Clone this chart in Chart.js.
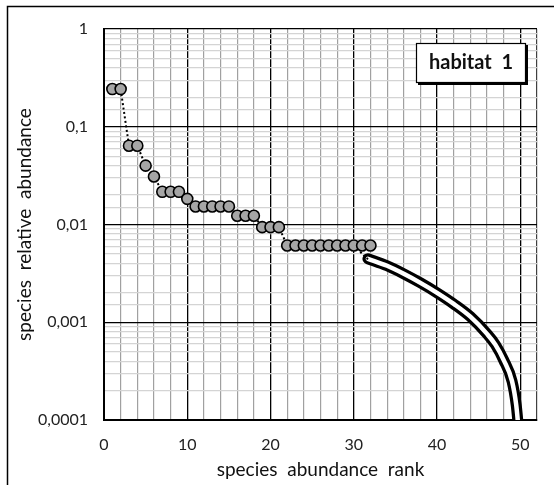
<!DOCTYPE html>
<html>
<head>
<meta charset="utf-8">
<script src="https://cdn.jsdelivr.net/npm/chart.js"></script>
<style>
  body { margin: 0; background: #fff; }
  #wrap { width: 554px; height: 485px; }
</style>
</head>
<body>
<div id="wrap"><canvas id="chart" width="554" height="485"></canvas></div>
<script>
// observed species, rank vs relative abundance
var ranks = [1, 2, 3, 4, 5, 6, 7, 8, 9, 10, 11, 12, 13, 14, 15, 16, 17, 18, 19, 20,
  21, 22, 23, 24, 25, 26, 27, 28, 29, 30, 31, 32];
var relAbundance = [0.243, 0.243, 0.064, 0.064, 0.040, 0.031, 0.0216, 0.0216, 0.0216, 0.0183,
  0.0153, 0.0153, 0.0153, 0.0153, 0.0153, 0.0123, 0.0123, 0.0123, 0.0094, 0.0094,
  0.0094, 0.0061, 0.0061, 0.0061, 0.0061, 0.0061, 0.0061, 0.0061, 0.0061, 0.0061, 0.0061, 0.0061];

// dotted link from the points to the tail curve
var linkRanks = [30, 31.7];
var linkValues = [0.0061, 0.0044];

// extrapolated tail (unseen species)
var tailRanks = [31.7, 34, 36, 38, 40, 42, 44, 46, 47, 48, 49, 49.5, 49.8];
var tailValues = [0.00446, 0.00378, 0.00313, 0.00253, 0.002, 0.00154, 0.00114,
  0.00076, 0.00059, 0.00041, 0.00025, 0.000143, 0.000079];

var yTickLabels = ["0,0001", "0,001", "0,01", "0,1", "1"];
var xTickLabels = ["0", "10", "20", "30", "40", "50"];
var boxLabel = "habitat  1";

function toXY(xs, ys) {
  return xs.map(function (x, i) { return { x: x, y: ys[i] }; });
}

function isDecade(v) {
  var e = Math.log10(v);
  return Math.abs(e - Math.round(e)) < 1e-6;
}

var FONT = "Lato";

// white page + outer frame + label box
var framePlugin = {
  id: "frame",
  beforeDraw: function (chart) {
    var c = chart.ctx;
    c.save();
    c.fillStyle = "#fff";
    c.fillRect(0, 0, chart.width, chart.height);
    c.strokeStyle = "#000";
    c.lineWidth = 1.5;
    c.strokeRect(7.5, 6.5, 560, 490);
    c.restore();
  },
  afterDraw: function (chart) {
    var c = chart.ctx;
    c.save();
    // shadow
    c.fillStyle = "#000";
    c.fillRect(418, 45, 110, 40);
    c.fillStyle = "#fff";
    c.fillRect(416, 43, 110, 40);
    c.strokeStyle = "#000";
    c.lineWidth = 1.2;
    c.strokeRect(416.5, 43.5, 109, 39);
    c.fillStyle = "#111";
    c.font = "bold 20px " + FONT;
    c.textAlign = "center";
    c.textBaseline = "middle";
    c.fillText(boxLabel, 471, 63);
    c.restore();
  }
};

var ctx = document.getElementById("chart").getContext("2d");
var myChart = new Chart(ctx, {
  type: "scatter",
  data: {
    datasets: [
      {
        label: "species",
        data: toXY(ranks, relAbundance),
        showLine: false,
        pointRadius: 5.5,
        pointHoverRadius: 5.5,
        pointBackgroundColor: "#a6a6a6",
        pointBorderColor: "#000",
        pointBorderWidth: 1.6,
        order: 0
      },
      {
        label: "link",
        data: toXY(ranks, relAbundance),
        showLine: true,
        borderColor: "#000",
        borderWidth: 2,
        borderDash: [2, 2.5],
        pointRadius: 0,
        order: 1
      },
      {
        label: "link2",
        data: toXY(linkRanks, linkValues),
        showLine: true,
        borderColor: "#000",
        borderWidth: 2,
        borderDash: [2, 2.5],
        pointRadius: 0,
        order: 1
      },
      {
        label: "tail inner",
        data: toXY(tailRanks, tailValues),
        showLine: true,
        borderColor: "#fff",
        borderWidth: 4.5,
        borderCapStyle: "round",
        cubicInterpolationMode: "monotone",
        pointRadius: 0,
        clip: 0,
        order: 2
      },
      {
        label: "tail outer",
        data: toXY(tailRanks, tailValues),
        showLine: true,
        borderColor: "#000",
        borderWidth: 11,
        borderCapStyle: "round",
        cubicInterpolationMode: "monotone",
        pointRadius: 0,
        clip: 0,
        order: 3
      }
    ]
  },
  options: {
    responsive: false,
    animation: false,
    layout: { padding: { left: 0, right: 17, top: 29, bottom: 0 } },
    plugins: {
      legend: { display: false },
      tooltip: { enabled: false }
    },
    scales: {
      x: {
        type: "linear",
        min: 0,
        max: 52,
        afterFit: function (scale) { scale.height = 65; },
        border: { display: true, color: "#000", width: 2 },
        grid: {
          drawTicks: false,
          color: function (c) {
            var v = c.tick.value;
            if (v === 52) return "#404040";
            return v % 10 === 0 ? "#000" : "#a0a0a0";
          },
          lineWidth: function (c) {
            return c.tick.value % 10 === 0 ? 1.3 : 1.2;
          }
        },
        ticks: {
          stepSize: 2,
          autoSkip: false,
          maxRotation: 0,
          padding: 15,
          color: "#222",
          font: { family: FONT, size: 16 },
          callback: function (v) {
            return v % 10 === 0 ? xTickLabels[v / 10] : "";
          }
        },
        title: {
          display: true,
          text: "species  abundance  rank",
          color: "#111",
          font: { family: FONT, size: 19 },
          padding: { top: 0, bottom: 4 }
        }
      },
      y: {
        type: "logarithmic",
        min: 0.0001,
        max: 1,
        afterFit: function (scale) { scale.width = 104; },
        border: { display: true, color: "#000", width: 2 },
        grid: {
          drawTicks: false,
          color: function (c) {
            return isDecade(c.tick.value) ? "#000" : "#d4d4d4";
          },
          lineWidth: function (c) {
            return isDecade(c.tick.value) ? 1.3 : 1.2;
          }
        },
        ticks: {
          autoSkip: false,
          padding: 16,
          color: "#222",
          font: { family: FONT, size: 16 },
          callback: function (v) {
            if (!isDecade(v)) return "";
            return yTickLabels[Math.round(Math.log10(v)) + 4];
          }
        },
        title: {
          display: true,
          text: "species  relative  abundance",
          color: "#111",
          font: { family: FONT, size: 19 },
          padding: { top: 13, bottom: 0 }
        }
      }
    }
  },
  plugins: [framePlugin]
});
</script>
</body>
</html>
